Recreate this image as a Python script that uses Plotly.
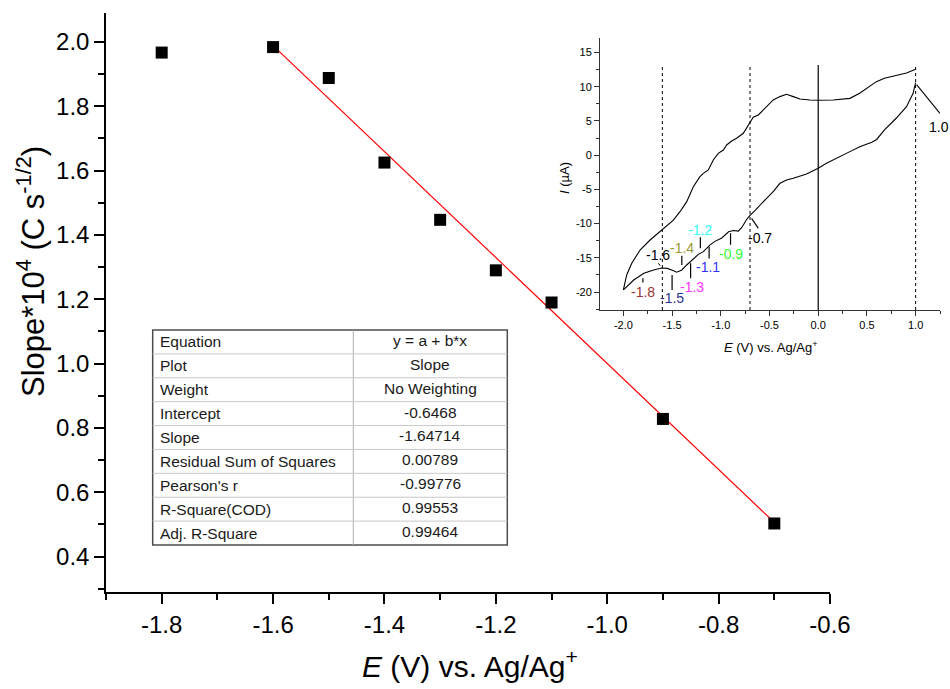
import plotly.graph_objects as go

# ---- Main data: Cottrell slope vs. step potential ----
E_step = [-1.8, -1.6, -1.5, -1.4, -1.3, -1.2, -1.1, -0.9, -0.7]
slope_vals = [1.967, 1.984, 1.888, 1.625, 1.447, 1.290, 1.190, 0.828, 0.503]

# Linear fit reported in the table
fit_intercept = -0.6468
fit_slope = -1.64714
fit_E = [-1.6, -0.7]

table_labels = ["Equation", "Plot", "Weight", "Intercept", "Slope",
                "Residual Sum of Squares", "Pearson's r", "R-Square(COD)",
                "Adj. R-Square"]
table_values = ["y = a + b*x", "Slope", "No Weighting", "-0.6468", "-1.64714",
                "0.00789", "-0.99776", "0.99553", "0.99464"]

# ---- Inset: cyclic voltammogram ----
cv_fwd_E = [-2.0, -1.966, -1.914, -1.829, -1.726, -1.606, -1.487, -1.419, -1.35,
            -1.282, -1.214, -1.179, -1.128, -1.077, -1.026, -0.974, -0.94, -0.889,
            -0.838, -0.769, -0.708, -0.667, -0.615, -0.547, -0.462, -0.393, -0.325,
            -0.256, -0.188, -0.085, 0.0, 0.154, 0.325, 0.425, 0.528, 0.597, 0.68,
            0.80, 0.906, 1.0]
cv_fwd_I = [-19.7, -17.5, -15.8, -13.86, -12.4, -10.9, -9.5, -8.26, -6.79,
            -4.6, -3.14, -2.65, -2.16, -0.7, 0.27, 0.76, 1.49, 2.08,
            2.47, 3.2, 4.56, 5.54, 5.88, 6.85, 8.07, 8.56, 8.9,
            8.56, 8.22, 8.07, 8.02, 8.07, 8.31, 9.05, 10.0, 10.75, 11.24,
            11.6, 12.0, 12.55]
cv_rev_E = [1.0, 0.974, 0.906, 0.80, 0.68, 0.60, 0.55, 0.476, 0.427, 0.325, 0.222,
            0.085, 0.0, -0.12, -0.256, -0.325, -0.393, -0.462, -0.53, -0.598,
            -0.65, -0.70, -0.735, -0.786, -0.82, -0.872, -0.92, -0.99, -1.06,
            -1.11, -1.179, -1.23, -1.298, -1.35, -1.40, -1.452, -1.504, -1.55,
            -1.606, -1.69, -1.79, -1.894, -2.0]
cv_rev_I = [10.6, 9.05, 7.1, 5.4, 3.7, 2.3, 1.9, 1.5, 1.25, 0.52, -0.21,
            -1.19, -1.92, -2.75, -3.38, -3.63, -4.11, -5.33, -6.3, -7.4,
            -8.1, -8.8, -9.4, -10.6, -11.1, -11.0, -11.2, -12.1, -12.6,
            -13.1, -14.1, -14.5, -15.3, -16.05, -16.78, -17.1, -16.78, -16.55,
            -16.5, -16.78, -17.27, -18.25, -19.7]

# Step potentials marked on the cathodic sweep: label, colour, tick, label pos
step_marks = [
    ("-1.8", "#993333", (-1.80, -18.0, -18.6), (-1.795, -19.95)),
    ("-1.5", "#2E3192", (-1.50, -17.5, -19.7), (-1.50, -20.9)),
    ("-1.4", "#999933", (-1.40, -14.7, -16.05), (-1.40, -13.6)),
    ("-1.3", "#FF33FF", (-1.31, -15.8, -18.0), (-1.30, -19.2)),
    ("-1.2", "#33FFFF", (-1.21, -12.0, -13.6), (-1.214, -10.9)),
    ("-1.1", "#3333FF", (-1.12, -13.4, -15.1), (-1.128, -16.3)),
    ("-0.9", "#33FF33", (-0.90, -11.4, -13.1), (-0.896, -14.4)),
]
window_lines = [-1.6, -0.7, 1.0]

FONT = "Liberation Sans, Arial, sans-serif"

# ---- Layout geometry (pixels) ----
W, H = 950, 689
ML, MR, MT, MB = 106, 10, 13, 97
PW, PH = W - ML - MR, H - MT - MB


def px(x):
    return (x - ML) / PW


def py(y):
    return (H - MB - y) / PH


fig = go.Figure()

fig.add_trace(go.Scatter(
    x=fit_E, y=[fit_intercept + fit_slope * e for e in fit_E],
    mode="lines", line=dict(color="#FF0000", width=1.2),
    xaxis="x", yaxis="y", showlegend=False))
fig.add_trace(go.Scatter(
    x=E_step, y=slope_vals, mode="markers",
    marker=dict(symbol="square", size=12, color="black"),
    xaxis="x", yaxis="y", showlegend=False))

fig.add_trace(go.Scatter(
    x=cv_fwd_E, y=cv_fwd_I, mode="lines", line=dict(color="black", width=1.1),
    xaxis="x2", yaxis="y2", showlegend=False))
fig.add_trace(go.Scatter(
    x=cv_rev_E, y=cv_rev_I, mode="lines", line=dict(color="black", width=1.1),
    xaxis="x2", yaxis="y2", showlegend=False))

shapes = []
annotations = []

# Inset: potential window guides and E = 0 line
for e in window_lines:
    shapes.append(dict(type="line", xref="x2", yref="y2", x0=e, x1=e,
                       y0=-22.63, y1=12.9, line=dict(color="black", width=1, dash="dot")))
shapes.append(dict(type="line", xref="x2", yref="y2", x0=0, x1=0,
                   y0=-22.63, y1=13.2, line=dict(color="black", width=1.2)))

# Inset: labelled step potentials
for lab, col, (te, t0, t1), (lx, ly) in step_marks:
    shapes.append(dict(type="line", xref="x2", yref="y2", x0=te, x1=te, y0=t0, y1=t1,
                       line=dict(color="black", width=1.2)))
    annotations.append(dict(text=lab, x=lx, y=ly, xref="x2", yref="y2", showarrow=False,
                            font=dict(family=FONT, size=14, color=col)))

# Inset: black labels with leader lines
shapes.append(dict(type="line", xref="x2", yref="y2", x0=1.01, y0=10.3, x1=1.25, y1=6.1,
                   line=dict(color="black", width=1.1)))
annotations.append(dict(text="1.0", x=px(939), y=py(127), xref="paper", yref="paper",
                        xanchor="center", yanchor="middle",
                        showarrow=False, font=dict(family=FONT, size=14, color="black")))
shapes.append(dict(type="line", xref="x2", yref="y2", x0=-0.684, y0=-9.23, x1=-0.615, y1=-10.7,
                   line=dict(color="black", width=1.1)))
annotations.append(dict(text="-0.7", x=-0.6, y=-12.15, xref="x2", yref="y2", showarrow=False,
                        font=dict(family=FONT, size=14, color="black")))
shapes.append(dict(type="line", xref="x2", yref="y2", x0=-1.64, y0=-15.8, x1=-1.615, y1=-16.3,
                   line=dict(color="black", width=1, dash="dot")))
annotations.append(dict(text="-1.6", x=-1.64, y=-14.6, xref="x2", yref="y2", showarrow=False,
                        font=dict(family=FONT, size=14, color="black")))

# Inset axis titles
annotations.append(dict(text="<i>E</i> (V) vs. Ag/Ag<sup>+</sup>", x=px(770), y=py(347),
                        xref="paper", yref="paper", showarrow=False,
                        xanchor="center", yanchor="middle",
                        font=dict(family=FONT, size=13, color="black")))
annotations.append(dict(text="<i>I</i> (\u00b5A)", x=px(564), y=py(178), textangle=-90,
                        xref="paper", yref="paper", showarrow=False,
                        xanchor="center", yanchor="middle",
                        font=dict(family=FONT, size=13, color="black")))

# Main axis titles
annotations.append(dict(text="<i>E</i> (V) vs. Ag/Ag<sup>+</sup>", x=px(470), y=py(664),
                        xref="paper", yref="paper", showarrow=False,
                        xanchor="center", yanchor="middle",
                        font=dict(family=FONT, size=30, color="black")))
annotations.append(dict(text="Slope*10<sup>4</sup> (C s<sup>-1/2</sup>)", x=px(31), y=py(272),
                        textangle=-90, xref="paper", yref="paper", showarrow=False,
                        xanchor="center", yanchor="middle",
                        font=dict(family=FONT, size=31, color="black")))

# Fit-parameter table
tx0, tx1, tmid = 152.7, 507.3, 353.3
ty0, ty1 = 330.0, 545.0
rh = (ty1 - ty0) / len(table_labels)
shapes.append(dict(type="rect", xref="paper", yref="paper", x0=px(tx0), x1=px(tx1),
                   y0=py(ty1), y1=py(ty0), fillcolor="white",
                   line=dict(color="#4d4d4d", width=1.5), layer="above"))
shapes.append(dict(type="line", xref="paper", yref="paper", x0=px(tmid), x1=px(tmid),
                   y0=py(ty1), y1=py(ty0), line=dict(color="#b0b0b0", width=1)))
for i in range(1, len(table_labels)):
    yy = ty0 + i * rh
    shapes.append(dict(type="line", xref="paper", yref="paper", x0=px(tx0), x1=px(tx1),
                       y0=py(yy), y1=py(yy), line=dict(color="#c8c8c8", width=1)))
for i, (lab, val) in enumerate(zip(table_labels, table_values)):
    yc = ty0 + (i + 0.5) * rh
    annotations.append(dict(text=lab, x=px(158), y=py(yc), xanchor="left", yanchor="middle",
                            xref="paper", yref="paper", showarrow=False,
                            font=dict(family=FONT, size=15.5, color="#1a1a1a")))
    annotations.append(dict(text=val, x=px((tmid + tx1) / 2), y=py(yc - 1.5),
                            xanchor="center", yanchor="middle",
                            xref="paper", yref="paper", showarrow=False,
                            font=dict(family=FONT, size=15.5, color="#1a1a1a")))

main_x_ticks = [-1.8, -1.6, -1.4, -1.2, -1.0, -0.8, -0.6]
main_y_ticks = [0.4, 0.6, 0.8, 1.0, 1.2, 1.4, 1.6, 1.8, 2.0]
inset_x_ticks = [-2.0, -1.5, -1.0, -0.5, 0.0, 0.5, 1.0]
inset_y_ticks = [-20, -15, -10, -5, 0, 5, 10, 15]

fig.update_layout(
    width=W, height=H, autosize=False,
    margin=dict(l=ML, r=MR, t=MT, b=MB, pad=0, autoexpand=False),
    paper_bgcolor="white", plot_bgcolor="white",
    font=dict(family=FONT, color="black"),
    xaxis=dict(domain=[0, px(830)], range=[-1.9, -0.6], anchor="y", automargin=False,
               tickvals=main_x_ticks, ticktext=[f"{v:.1f}" for v in main_x_ticks],
               ticks="outside", ticklen=10, tickwidth=1.5, tickcolor="black",
               showline=True, linewidth=1.5, linecolor="black", showgrid=False,
               zeroline=False, tickfont=dict(size=24, family=FONT),
               minor=dict(ticks="outside", ticklen=6, tickwidth=1.5, tickcolor="black",
                          tick0=-1.9, dtick=0.2, showgrid=False)),
    yaxis=dict(domain=[0, 1], range=[0.29, 2.09], anchor="x", automargin=False,
               tickvals=main_y_ticks, ticktext=[f"{v:.1f}" for v in main_y_ticks],
               ticks="outside", ticklen=10, tickwidth=1.5, tickcolor="black",
               showline=True, linewidth=1.5, linecolor="black", showgrid=False,
               zeroline=False, tickfont=dict(size=24, family=FONT),
               minor=dict(ticks="outside", ticklen=6, tickwidth=1.5, tickcolor="black",
                          tick0=0.3, dtick=0.2, showgrid=False)),
    xaxis2=dict(domain=[px(600), 1.0], range=[-2.24, 1.25], anchor="y2", automargin=False,
                tickvals=inset_x_ticks, ticktext=[f"{v:.1f}" for v in inset_x_ticks],
                ticks="outside", ticklen=5, tickwidth=1, tickcolor="#333",
                showline=True, linewidth=1, linecolor="#333", showgrid=False,
                zeroline=False, tickfont=dict(size=11, family=FONT),
                minor=dict(ticks="outside", ticklen=3, tickwidth=1, tickcolor="#333",
                           tick0=-2.25, dtick=0.5, showgrid=False)),
    yaxis2=dict(domain=[py(310), py(38)], range=[-22.63, 17.13], anchor="x2", automargin=False,
                tickvals=inset_y_ticks, ticktext=[str(v) for v in inset_y_ticks],
                ticks="outside", ticklen=5, tickwidth=1, tickcolor="#333",
                showline=True, linewidth=1, linecolor="#333", showgrid=False,
                zeroline=False, tickfont=dict(size=11, family=FONT),
                minor=dict(ticks="outside", ticklen=3, tickwidth=1, tickcolor="#333",
                           tick0=-17.5, dtick=5, showgrid=False)),
    shapes=shapes,
    annotations=annotations,
)

fig.write_html("out.html", config={"responsive": False})
